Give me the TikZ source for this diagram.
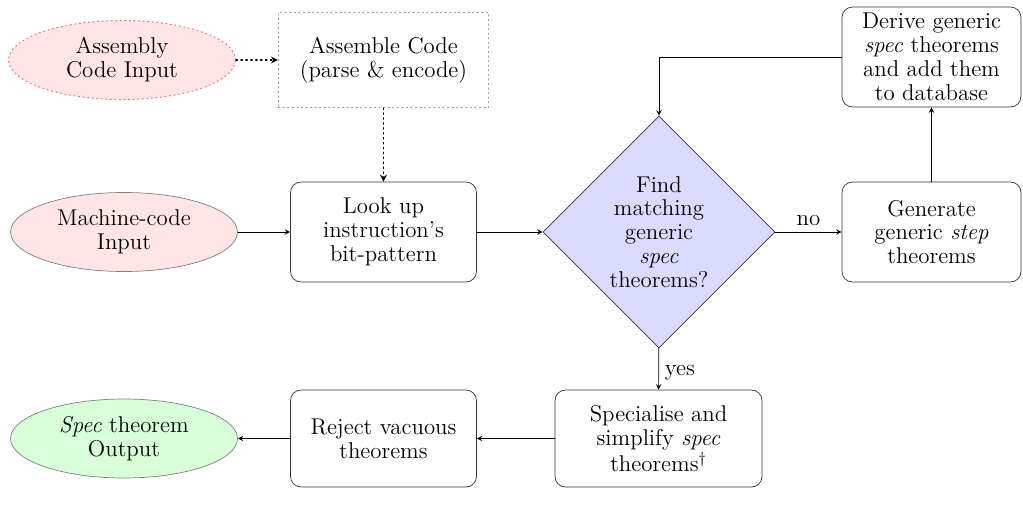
\documentclass[tikz,border=0pt]{standalone}
\usetikzlibrary{shapes.geometric}
\begin{document}
\begin{tikzpicture}[line cap=round,line join=round,>=stealth,x=1.0cm,y=1.0cm,scale=1,
	font=\fontsize{13}{13.6}\selectfont,
	procbox/.style={draw=black!80,rounded corners=6pt,align=center,minimum width=3.72cm,minimum height=2cm,inner sep=2pt},
	iobox/.style={ellipse,draw=black!50,align=center,minimum width=4.54cm,minimum height=1.58cm,inner sep=0pt},
	decide/.style={diamond,draw=black!80,fill=blue!14,align=center,minimum width=4.64cm,minimum height=4.64cm,inner sep=0pt}]
		\useasboundingbox (0,0) rectangle (20.46,-10.24);
		% inputs
		\node[iobox,fill=red!10,draw=red!60,dotted,semithick] (asmin) at (2.44,-1.2) {Assembly\\Code Input};
		\node[draw=black!40,dotted,semithick,align=center,minimum width=4.2cm,minimum height=1.9cm] (asmcode) at (7.67,-1.2) {Assemble Code\\(parse \& encode)};
		\node[iobox,fill=red!10] (mcin) at (2.48,-4.64) {Machine-code\\Input};
		\node[procbox] (lookup) at (7.67,-4.64) {Look up\\instruction's\\bit-pattern};
		% decision
		\node[decide] (find) at (13.18,-4.64) {Find\\matching\\generic\\\textit{spec}\\theorems?};
		\node[procbox,minimum width=3.58cm] (gen) at (18.63,-4.64) {Generate\\generic \textit{step}\\theorems};
		\node[procbox,minimum width=3.58cm] (derive) at (18.63,-1.14) {Derive generic\\\textit{spec} theorems\\and add them\\to database};
		% outputs
		\node[procbox,minimum width=4.14cm,minimum height=1.94cm] (spec) at (13.17,-8.77) {Specialise and\\simplify \textit{spec}\\[1pt]theorems$^\dagger$};
		\node[procbox,minimum height=1.94cm] (reject) at (7.67,-8.77) {Reject vacuous\\theorems};
		\node[iobox,fill=green!15] (specout) at (2.48,-8.77) {\textit{Spec} theorem\\Output};
		% arrows
		\draw[->,dotted,thick] (asmin)--(asmcode);
		\draw[->,dotted,thick] (asmcode)--(lookup);
		\draw[->] (mcin)--(lookup);
		\draw[->] (lookup)--(find);
		\draw[->] (find)--node[above]{no}(gen);
		\draw[->] (gen)--(derive);
		\draw[->] (derive.west)-|(find.north);
		\draw[->] (find)--node[right,pos=0.6]{yes}(spec);
		\draw[->] (spec)--(reject);
		\draw[->] (reject)--(specout);
		\end{tikzpicture}
\end{document}
